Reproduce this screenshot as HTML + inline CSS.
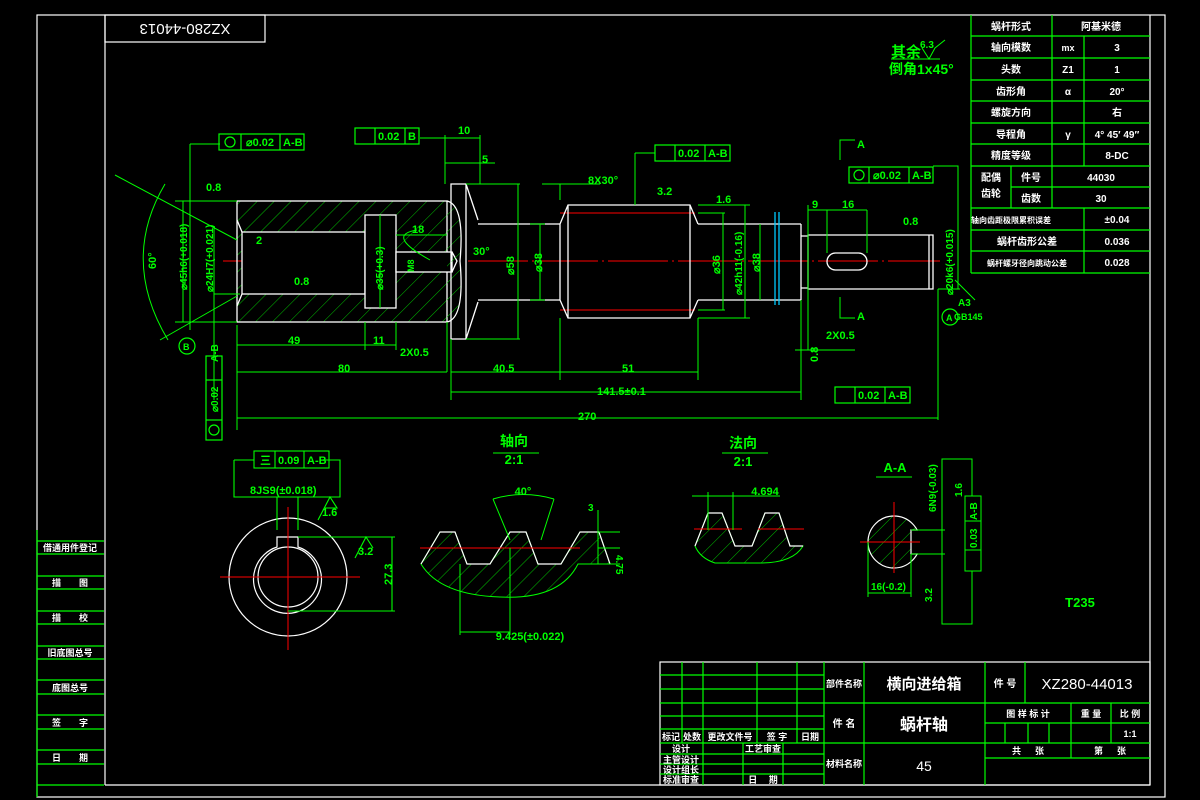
<!DOCTYPE html>
<html><head><meta charset="utf-8"><style>
html,body{margin:0;padding:0;background:#000;}
svg{display:block}
text{font-family:"Liberation Sans","Noto Sans CJK SC",sans-serif;}
.g{fill:#00ff00}.w{fill:#fff}
</style></head><body>
<svg width="1200" height="800" viewBox="0 0 1200 800" xmlns="http://www.w3.org/2000/svg">
<defs>
<pattern id="h" width="12" height="12" patternUnits="userSpaceOnUse" patternTransform="rotate(45)">
<line x1="0" y1="0" x2="0" y2="12" stroke="#00c000" stroke-width="1"/></pattern>
</defs>
<rect width="1200" height="800" fill="#000"/>
<!-- frame -->
<g fill="none" stroke="#fff" stroke-width="1.2">
<rect x="37" y="15" width="1128" height="782"/>
<line x1="105" y1="15" x2="105" y2="785"/>
<line x1="105" y1="785" x2="1150" y2="785"/>
<line x1="1150" y1="15" x2="1150" y2="785"/>
<rect x="105" y="15" width="160" height="27"/>
</g>
<text x="185" y="34" transform="rotate(180 185 29)" text-anchor="middle" font-size="15" class="w" font-family="Liberation Mono">XZ280-44013</text>

<!-- left stamp table -->
<g stroke="#00ff00" stroke-width="1.2">
<line x1="37" y1="530" x2="37" y2="797"/>
<line x1="37" y1="541" x2="104" y2="541"/><line x1="37" y1="554" x2="104" y2="554"/>
<line x1="37" y1="576" x2="104" y2="576"/><line x1="37" y1="589" x2="104" y2="589"/>
<line x1="37" y1="611" x2="104" y2="611"/><line x1="37" y1="624" x2="104" y2="624"/>
<line x1="37" y1="646" x2="104" y2="646"/><line x1="37" y1="659" x2="104" y2="659"/>
<line x1="37" y1="680" x2="104" y2="680"/><line x1="37" y1="694" x2="104" y2="694"/>
<line x1="37" y1="715" x2="104" y2="715"/><line x1="37" y1="729" x2="104" y2="729"/>
<line x1="37" y1="750" x2="104" y2="750"/><line x1="37" y1="764" x2="104" y2="764"/>
<line x1="37" y1="785" x2="104" y2="785"/>
</g>
<g class="w" font-size="9" font-weight="bold" text-anchor="middle">
<text x="70" y="551">借通用件登记</text><text x="70" y="586">描　　图</text>
<text x="70" y="621">描　　校</text><text x="70" y="656">旧底图总号</text>
<text x="70" y="691">底图总号</text><text x="70" y="726">签　　字</text>
<text x="70" y="761">日　　期</text>
</g>

<!-- top right table -->
<g stroke="#00ff00" stroke-width="1.2" fill="none">
<line x1="971" y1="15" x2="971" y2="273"/>
<line x1="1052" y1="15" x2="1052" y2="208"/>
<line x1="1084" y1="36" x2="1084" y2="166"/>
<line x1="1084" y1="208" x2="1084" y2="273"/>
<line x1="1011" y1="166" x2="1011" y2="208"/>
<line x1="971" y1="36" x2="1150" y2="36"/><line x1="971" y1="58" x2="1150" y2="58"/>
<line x1="971" y1="80" x2="1150" y2="80"/><line x1="971" y1="101" x2="1150" y2="101"/>
<line x1="971" y1="123" x2="1150" y2="123"/><line x1="971" y1="144" x2="1150" y2="144"/>
<line x1="971" y1="166" x2="1150" y2="166"/><line x1="1011" y1="187" x2="1150" y2="187"/>
<line x1="971" y1="208" x2="1150" y2="208"/><line x1="971" y1="230" x2="1150" y2="230"/>
<line x1="971" y1="251" x2="1150" y2="251"/><line x1="971" y1="273" x2="1150" y2="273"/>
</g>
<g class="w" font-size="10" font-weight="bold" text-anchor="middle">
<text x="1011" y="30">蜗杆形式</text><text x="1101" y="30">阿基米德</text>
<text x="1011" y="51">轴向模数</text><text x="1068" y="51" font-size="9">mx</text><text x="1117" y="51">3</text>
<text x="1011" y="73">头数</text><text x="1068" y="73">Z1</text><text x="1117" y="73">1</text>
<text x="1011" y="95">齿形角</text><text x="1068" y="95">α</text><text x="1117" y="95">20°</text>
<text x="1011" y="116">螺旋方向</text><text x="1117" y="116">右</text>
<text x="1011" y="138">导程角</text><text x="1068" y="138">γ</text><text x="1117" y="138">4° 45′ 49″</text>
<text x="1011" y="159">精度等级</text><text x="1117" y="159">8-DC</text>
<text x="991" y="181">配偶</text><text x="991" y="197">齿轮</text>
<text x="1031" y="181">件号</text><text x="1101" y="181">44030</text>
<text x="1031" y="202">齿数</text><text x="1101" y="202">30</text>
<text x="1011" y="223" font-size="8">轴向齿距极限累积误差</text><text x="1117" y="223">±0.04</text>
<text x="1027" y="245">蜗杆齿形公差</text><text x="1117" y="245">0.036</text>
<text x="1027" y="266" font-size="8">蜗杆螺牙径向跳动公差</text><text x="1117" y="266">0.028</text>
</g>

<!-- 其余 -->
<g class="g" font-weight="bold">
<text x="891" y="57" font-size="15">其余</text>
<text x="920" y="48" font-size="10">6.3</text>
<text x="889" y="74" font-size="14">倒角1x45°</text>
</g>
<g stroke="#00ff00" fill="none"><path d="M891 59 H940 M922 48 L929 59 L935 48 L945 40"/></g>

<!-- title block -->
<g stroke="#00ff00" stroke-width="1.2" fill="none">
<rect x="660" y="662" width="490" height="123" stroke="#fff"/>
<line x1="824" y1="662" x2="824" y2="785"/><line x1="864" y1="662" x2="864" y2="785"/>
<line x1="985" y1="662" x2="985" y2="785"/><line x1="1025" y1="662" x2="1025" y2="703"/>
<line x1="660" y1="675" x2="824" y2="675"/><line x1="660" y1="689" x2="824" y2="689"/>
<line x1="660" y1="703" x2="1150" y2="703"/><line x1="660" y1="716" x2="824" y2="716"/>
<line x1="660" y1="729" x2="824" y2="729"/><line x1="660" y1="743" x2="1150" y2="743"/>
<line x1="660" y1="754" x2="824" y2="754"/><line x1="660" y1="764" x2="824" y2="764"/>
<line x1="660" y1="774" x2="824" y2="774"/>
<line x1="682" y1="662" x2="682" y2="743"/><line x1="703" y1="662" x2="703" y2="785"/>
<line x1="757" y1="662" x2="757" y2="743"/><line x1="797" y1="662" x2="797" y2="743"/>
<line x1="743" y1="743" x2="743" y2="785"/><line x1="783" y1="743" x2="783" y2="785"/>
<line x1="985" y1="723" x2="1150" y2="723"/><line x1="985" y1="758" x2="1150" y2="758"/>
<line x1="1071" y1="703" x2="1071" y2="758"/><line x1="1111" y1="703" x2="1111" y2="743"/>
<line x1="1005" y1="723" x2="1005" y2="743"/><line x1="1028" y1="723" x2="1028" y2="743"/><line x1="1049" y1="723" x2="1049" y2="743"/>
</g>
<g class="w" font-weight="bold" text-anchor="middle">
<text x="844" y="687" font-size="9">部件名称</text>
<text x="924" y="689" font-size="15">横向进给箱</text>
<text x="1005" y="687" font-size="10">件 号</text>
<text x="1087" y="689" font-size="15" font-family="Liberation Mono" font-weight="normal">XZ280-44013</text>
<text x="844" y="727" font-size="10">件 名</text>
<text x="924" y="730" font-size="16">蜗杆轴</text>
<text x="1028" y="717" font-size="9">图 样 标 计</text><text x="1091" y="717" font-size="9">重 量</text><text x="1130" y="717" font-size="9">比 例</text>
<text x="1130" y="737" font-size="9">1:1</text>
<text x="1028" y="754" font-size="9">共 　 张</text><text x="1110" y="754" font-size="9">第 　 张</text>
<text x="844" y="767" font-size="9">材料名称</text>
<text x="924" y="771" font-size="14" font-weight="normal" font-family="Liberation Serif">45</text>
<g font-size="9"><text x="671" y="740">标记</text><text x="692" y="740">处数</text><text x="730" y="740">更改文件号</text><text x="777" y="740">签 字</text><text x="810" y="740">日期</text>
<text x="681" y="752">设计</text><text x="763" y="752">工艺审查</text>
<text x="681" y="763">主管设计</text><text x="681" y="773">设计组长</text><text x="681" y="783">标准审查</text>
<text x="763" y="783">日 　期</text></g>
</g>

<!-- centerlines -->
<g stroke="#ff0000" stroke-width="1">
<line x1="223" y1="261" x2="290" y2="261"/><line x1="307" y1="261" x2="450" y2="261"/>
<line x1="468" y1="261" x2="940" y2="261" stroke-dasharray="60,4,2,4"/>
<line x1="560" y1="213" x2="695" y2="213"/><line x1="560" y1="310" x2="695" y2="310"/>
</g>

<!-- main shaft (white) -->
<g stroke="#fff" stroke-width="1.3" fill="none">
<rect x="237" y="201" width="210" height="121" fill="url(#h)"/>
<rect x="242" y="232" width="123" height="62" fill="#000"/>
<path d="M237 220 L242 232 M237 306 L242 294"/>
<rect x="365" y="215" width="31" height="93" fill="#000"/>
<rect x="396" y="252" width="56" height="20" fill="#000"/>
<path d="M452 252 L457 261 L452 272"/>
<path d="M447 201 Q465 205 460 261 Q465 318 447 322" fill="url(#h)"/>
<path d="M451 184 H466 V339 H451 Z M466 184 L478 220 M466 339 L478 302"/>
<path d="M478 224 H560 M478 300 H560"/>
<path d="M560 224 V300 M560 224 L568 205 H690 L698 224 M560 300 L568 318 H690 L698 300 M568 205 V318 M690 205 V318"/>
<path d="M698 224 H801 M698 300 H801 M801 224 V300 M801 236 H808 M801 288 H808"/>
<path d="M808 235 H929 V289 H808 Z M929 235 H933 V289 H929"/>
<rect x="827" y="253" width="40" height="17" rx="8.5"/>
</g>
<g stroke="#00ccff" stroke-width="1.3"><line x1="775" y1="212" x2="775" y2="305"/><line x1="779" y1="212" x2="779" y2="305"/></g>

<!-- dimensions main -->
<g stroke="#00ff00" stroke-width="1" fill="none">
<path d="M237 325 V430 M237 345 H365 M365 322 V350 M396 322 V350 M365 345 H396 M447 322 V372 M237 372 H447 M451 339 V400 M451 372 H560 M560 318 V380 M560 372 H698 M698 318 V380 M451 392 H801 M801 300 V400 M237 418 H938 M938 289 V420"/>
<path d="M190 144 V330 M190 144 H220 M175 201 H237 M175 322 H237 M183 201 V322"/>
<path d="M214 228 V400 M214 294 H240"/>
<path d="M165 184 Q120 260 168 340 M115 175 L237 240 M160 340 L237 296"/>
<path d="M396 235 H447 M380 215 V308"/>
<path d="M518 184 V339 M466 184 H520 M466 339 H520 M540 224 V300 M530 224 H545 M530 300 H545"/>
<path d="M445 135 V184 M480 135 V184 M445 163 H495 M420 138 H480"/>
<path d="M542 184 H600 M560 184 V200"/>
<path d="M635 153 V205 M635 153 H655"/>
<path d="M698 205 H750 M698 318 H750 M745 205 V318 M698 213 H725 M698 310 H725 M723 213 V310 M760 224 V300"/>
<path d="M808 205 V318 M808 210 H867 M827 210 V253 M867 210 V253"/>
<path d="M933 166 H958 V289 M938 289 H960"/>
<path d="M795 350 H855 M808 318 V350"/>
<path d="M840 160 V140 H855 M840 297 V318 H855"/>
<path d="M955 280 L975 300"/>
<path d="M417 230 Q385 235 430 260"/>
</g>
<!-- FCFs -->
<g stroke="#00ff00" stroke-width="1.2" fill="none">
<rect x="219" y="134" width="85" height="16"/><line x1="241" y1="134" x2="241" y2="150"/><line x1="280" y1="134" x2="280" y2="150"/>
<circle cx="230" cy="142" r="5"/>
<rect x="355" y="128" width="64" height="16"/><line x1="375" y1="128" x2="375" y2="144"/><line x1="405" y1="128" x2="405" y2="144"/>
<rect x="655" y="145" width="75" height="16"/><line x1="675" y1="145" x2="675" y2="161"/><line x1="705" y1="145" x2="705" y2="161"/>
<rect x="849" y="167" width="84" height="16"/><line x1="869" y1="167" x2="869" y2="183"/><line x1="909" y1="167" x2="909" y2="183"/>
<circle cx="859" cy="175" r="5"/>
<rect x="835" y="387" width="75" height="16"/><line x1="855" y1="387" x2="855" y2="403"/><line x1="885" y1="387" x2="885" y2="403"/>
<rect x="206" y="356" width="16" height="84"/><line x1="206" y1="380" x2="222" y2="380"/><line x1="206" y1="420" x2="222" y2="420"/>
<circle cx="214" cy="430" r="5"/>
<circle cx="187" cy="346" r="8"/><circle cx="950" cy="317" r="8"/>
</g>
<g class="g" font-weight="bold" font-size="11">
<text x="246" y="146">⌀0.02</text><text x="283" y="146">A-B</text>
<text x="378" y="140">0.02</text><text x="408" y="140">B</text>
<text x="678" y="157">0.02</text><text x="708" y="157">A-B</text>
<text x="873" y="179">⌀0.02</text><text x="912" y="179">A-B</text>
<text x="858" y="399">0.02</text><text x="888" y="399">A-B</text>
<text x="183" y="350" font-size="9">B</text><text x="946" y="321" font-size="9">A</text>
<text x="218" y="362" transform="rotate(-90 218 362)" font-size="10">A-B</text>
<text x="218" y="412" transform="rotate(-90 218 412)" font-size="10">⌀0.02</text>
<text x="458" y="134">10</text><text x="482" y="163">5</text>
<text x="206" y="191">0.8</text><text x="294" y="285">0.8</text><text x="256" y="244">2</text>
<text x="412" y="233">18</text><text x="473" y="255">30°</text>
<text x="288" y="344">49</text><text x="373" y="344">11</text><text x="400" y="356">2X0.5</text>
<text x="338" y="372">80</text><text x="493" y="372">40.5</text><text x="622" y="372">51</text>
<text x="597" y="395">141.5±0.1</text><text x="578" y="420">270</text>
<text x="588" y="184">8X30°</text><text x="657" y="195">3.2</text><text x="716" y="203">1.6</text>
<text x="812" y="208">9</text><text x="842" y="208">16</text><text x="903" y="225">0.8</text>
<text x="826" y="339">2X0.5</text><text x="857" y="148">A</text><text x="857" y="320">A</text>
<text x="958" y="306" font-size="10">A3</text><text x="950" y="318" font-size="9"></text>
<text x="954" y="320" font-size="9">GB145</text>
<text x="156" y="269" transform="rotate(-90 156 269)">60°</text>
<text x="187" y="290" transform="rotate(-90 187 290)" font-size="10">⌀45h6(+0.018)</text>
<text x="213" y="292" transform="rotate(-90 213 292)" font-size="10">⌀24H7(+0.021)</text>
<text x="383" y="290" transform="rotate(-90 383 290)" font-size="10">⌀35(+0.3)</text>
<text x="514" y="275" transform="rotate(-90 514 275)">⌀58</text>
<text x="542" y="272" transform="rotate(-90 542 272)">⌀38</text>
<text x="720" y="274" transform="rotate(-90 720 274)">⌀36</text>
<text x="742" y="295" transform="rotate(-90 742 295)" font-size="10">⌀42h11(-0.16)</text>
<text x="760" y="272" transform="rotate(-90 760 272)">⌀38</text>
<text x="953" y="295" transform="rotate(-90 953 295)" font-size="10">⌀20k6(+0.015)</text>
<text x="818" y="362" transform="rotate(-90 818 362)">0.8</text>
<text x="414" y="272" transform="rotate(-90 414 272)" font-size="9">M8</text>
</g>

<!-- key section bottom-left -->
<g stroke="#fff" stroke-width="1.2" fill="none">
<circle cx="288" cy="577" r="59"/>
<path d="M277 537 H298 V547 A34 34 0 1 1 277 547 Z"/>
<circle cx="288" cy="577" r="30"/>
</g>
<g stroke="#ff0000"><line x1="220" y1="577" x2="360" y2="577"/><line x1="288" y1="507" x2="288" y2="650"/></g>
<g stroke="#00ff00" fill="none" stroke-width="1.1">
<path d="M234 460 V497 H340 V460 H325 M254 460 H234 M277 497 V530 M298 497 V530 M298 537 H395 M288 611 H395 M392 537 V611"/>
<rect x="254" y="451" width="75" height="17"/><line x1="275" y1="451" x2="275" y2="468"/><line x1="304" y1="451" x2="304" y2="468"/>
<path d="M318 520 L330 497 L337 508 H325 M355 558 L366 537 L373 548"/>
</g>
<g class="g" font-weight="bold" font-size="11">
<text x="278" y="464">0.09</text><text x="307" y="464">A-B</text><text x="260" y="464">三</text>
<text x="250" y="494">8JS9(±0.018)</text><text x="322" y="516">1.6</text><text x="358" y="555">3.2</text>
<text x="392" y="585" transform="rotate(-90 392 585)">27.3</text>
</g>

<!-- axial tooth -->
<g class="g" font-weight="bold" text-anchor="middle">
<text x="514" y="446" font-size="14">轴向</text><text x="514" y="464" font-size="13">2:1</text>
<text x="743" y="448" font-size="14">法向</text><text x="743" y="466" font-size="13">2:1</text>
<text x="523" y="495" font-size="11">40°</text><text x="530" y="640" font-size="11">9.425(±0.022)</text>
<text x="765" y="495" font-size="11">4.694</text><text x="895" y="472" font-size="13">A-A</text>
<text x="1080" y="607" font-size="13">T235</text>
</g>
<g stroke="#00ff00" fill="none"><line x1="493" y1="453" x2="539" y2="453"/><line x1="722" y1="453" x2="768" y2="453"/><line x1="876" y1="477" x2="912" y2="477"/></g>
<path d="M421 564 L440 532 H455 L467 564 H490 L510 532 H526 L538 564 H561 L580 532 H599 L610 564 H578 Q560 600 500 597 Q440 595 421 564 Z" fill="url(#h)" stroke="#00ff00"/>
<path d="M421 564 L440 532 H455 L467 564 H490 L510 532 H526 L538 564 H561 L580 532 H599 L610 564" fill="none" stroke="#fff" stroke-width="1.2"/>
<g stroke="#ff0000"><line x1="420" y1="548" x2="580" y2="548"/></g>
<g stroke="#00ff00" fill="none">
<path d="M493 499 Q523 490 554 499 M493 499 L510 540 M554 499 L541 540 M460 564 V635 M510 548 V635 M460 632 H510 M599 532 H620 M598 548 H620 M599 564 H620 M598 510 V564"/>
</g>
<text x="616" y="555" transform="rotate(90 616 555)" class="g" font-size="10" font-weight="bold">4.75</text>
<text x="588" y="511" class="g" font-size="10" font-weight="bold">3</text>

<!-- normal tooth -->
<path d="M695 546 L708 513 H722 L735 546 H752 L765 513 H779 L790 546 H803 Q793 563 760 563 H715 Q700 558 695 546 Z" fill="url(#h)" stroke="#00ff00"/>
<path d="M695 546 L708 513 H722 L735 546 H752 L765 513 H779 L790 546 H803" fill="none" stroke="#fff" stroke-width="1.2"/>
<g stroke="#ff0000"><line x1="694" y1="529" x2="742" y2="529"/><line x1="758" y1="529" x2="804" y2="529"/></g>
<g stroke="#00ff00" fill="none"><path d="M692 496 H780 M708 492 V530 M733 492 V530"/></g>

<!-- A-A section -->
<circle cx="894" cy="542" r="26" fill="url(#h)" stroke="#fff" stroke-width="1.2"/>
<rect x="911" y="530" width="10" height="24" fill="#000"/>
<path d="M918 530 H911 V554 H918" stroke="#fff" fill="none" stroke-width="1.2"/>
<g stroke="#ff0000"><line x1="860" y1="542" x2="920" y2="542"/><line x1="894" y1="502" x2="894" y2="573"/></g>
<g stroke="#00ff00" fill="none">
<rect x="942" y="459" width="30" height="165"/>
<rect x="965" y="496" width="16" height="75" fill="#000"/>
<line x1="965" y1="521" x2="981" y2="521"/><line x1="965" y1="550" x2="981" y2="550"/>
<path d="M911 530 H945 M911 554 H945 M868 542 V597 M911 554 V597 M868 593 H911"/>
</g>
<g class="g" font-weight="bold" font-size="10">
<text x="977" y="520" transform="rotate(-90 977 520)">A-B</text>
<text x="977" y="548" transform="rotate(-90 977 548)">0.03</text>
<text x="936" y="512" transform="rotate(-90 936 512)">6N9(-0.03)</text>
<text x="962" y="497" transform="rotate(-90 962 497)">1.6</text>
<text x="871" y="590">16(-0.2)</text>
<text x="932" y="602" transform="rotate(-90 932 602)">3.2</text>
</g>
</svg>
</body></html>
